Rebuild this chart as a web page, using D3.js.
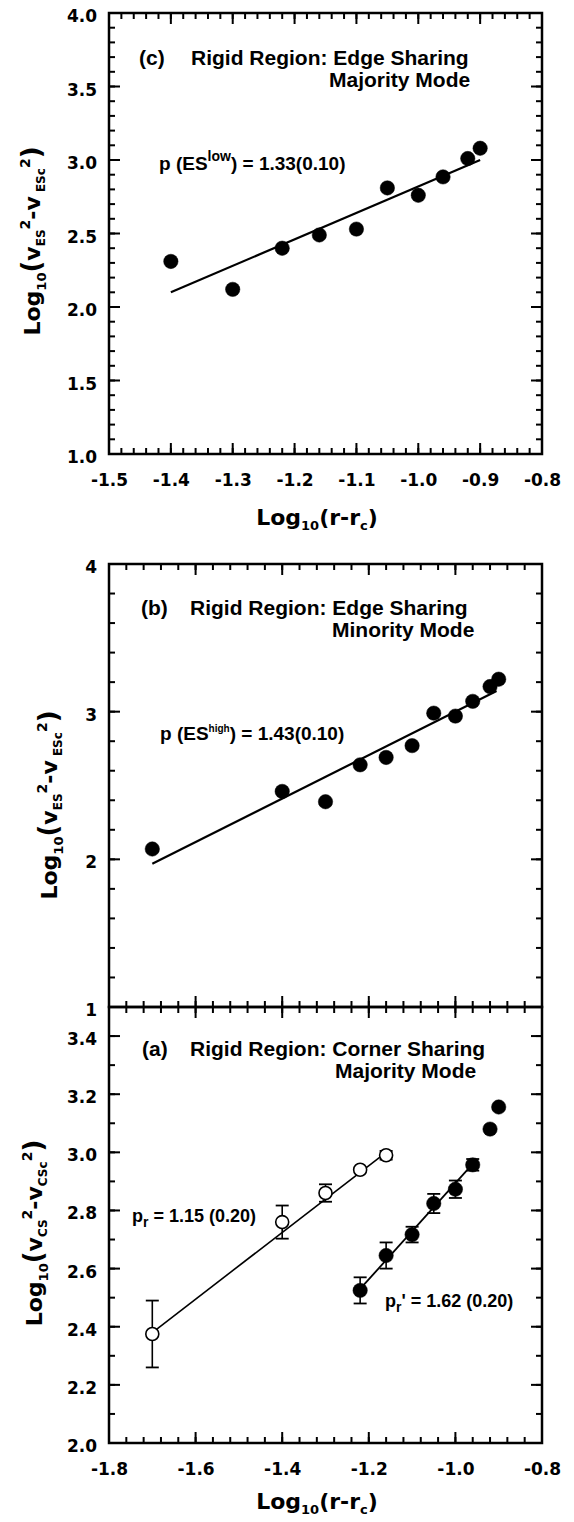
<!DOCTYPE html>
<html>
<head>
<meta charset="utf-8">
<script src="https://cdn.jsdelivr.net/npm/d3@7"></script>
<style>
  html, body { margin: 0; padding: 0; background: #fff; }
  svg { display: block; }
  .lbl text { font-family: "DejaVu Sans", sans-serif; font-weight: bold; font-size: 17px; fill: #000; }
  .note { font-family: "Liberation Sans", Arial, sans-serif; font-weight: bold; fill: #000; }
  .title { font-family: "DejaVu Sans", sans-serif; font-weight: bold; fill: #000; }
</style>
</head>
<body>
<svg width="574" height="1522"></svg>
<script>
// ---- panel (c): edge sharing, majority mode ----
const cX = [-1.40, -1.30, -1.22, -1.16, -1.10, -1.05, -1.00, -0.96, -0.92, -0.90];
const cY = [2.31, 2.12, 2.40, 2.49, 2.53, 2.81, 2.76, 2.885, 3.01, 3.08];
const cFitX = [-1.40, -0.90];
const cFitY = [2.10, 3.00];
const cXTicks = [-1.5, -1.4, -1.3, -1.2, -1.1, -1.0, -0.9, -0.8];
const cYTicks = [1.0, 1.5, 2.0, 2.5, 3.0, 3.5, 4.0];

// ---- panel (b): edge sharing, minority mode ----
const bX = [-1.70, -1.40, -1.30, -1.22, -1.16, -1.10, -1.05, -1.00, -0.96, -0.92, -0.90];
const bY = [2.07, 2.46, 2.39, 2.64, 2.69, 2.77, 2.99, 2.97, 3.07, 3.17, 3.22];
const bFitX = [-1.70, -0.905];
const bFitY = [1.97, 3.14];
const bXTicks = [-1.8, -1.6, -1.4, -1.2, -1.0, -0.8];
const bYTicks = [1, 2, 3, 4];

// ---- panel (a): corner sharing, majority mode ----
const aOpenX = [-1.70, -1.40, -1.30, -1.22, -1.16];
const aOpenY = [2.375, 2.76, 2.86, 2.94, 2.99];
const aOpenErr = [0.115, 0.057, 0.03, 0, 0.015];
const aFillX = [-1.22, -1.16, -1.10, -1.05, -1.00, -0.96, -0.92, -0.90];
const aFillY = [2.525, 2.645, 2.717, 2.824, 2.873, 2.957, 3.08, 3.156];
const aFillErr = [0.045, 0.045, 0.027, 0.033, 0.03, 0.02, 0, 0];
const aOpenFitX = [-1.70, -1.16];
const aOpenFitY = [2.38, 3.00];
const aFillFitX = [-1.22, -0.96];
const aFillFitY = [2.53, 2.96];
const aXTicks = [-1.8, -1.6, -1.4, -1.2, -1.0, -0.8];
const aYTicks = [2.0, 2.2, 2.4, 2.6, 2.8, 3.0, 3.2, 3.4];

const svg = d3.select('svg');

function minorTicks(domain, step) {
    const n = Math.round((domain[1] - domain[0]) / step);
    return d3.range(n + 1).map(i => +(domain[0] + i * step).toFixed(3));
}

function seg(g, x1, y1, x2, y2, w) {
    g.append('line')
        .attr('x1', x1).attr('y1', y1).attr('x2', x2).attr('y2', y2)
        .attr('stroke', '#000').attr('stroke-width', w);
}

function panel(p) {
    const x = d3.scaleLinear().domain(p.xDomain).range([p.left, p.right]);
    const y = d3.scaleLinear().domain(p.yDomain).range([p.bottom, p.top]);
    const g = svg.append('g');

    g.append('rect')
        .attr('x', p.left).attr('y', p.top)
        .attr('width', p.right - p.left).attr('height', p.bottom - p.top)
        .attr('fill', 'none').attr('stroke', '#000').attr('stroke-width', 2.5);

    // inward tick marks on all four sides
    const xt = [[minorTicks(p.xDomain, p.xMinor), 6], [p.xTicks, 11]];
    const yt = [[minorTicks(p.yDomain, p.yMinor), 6], [p.yTicks, 11]];
    xt.forEach(([vals, len]) => vals.forEach(v => {
        const px = x(v);
        seg(g, px, p.bottom, px, p.bottom - len, 2);
        seg(g, px, p.top, px, p.top + len, 2);
    }));
    yt.forEach(([vals, len]) => vals.forEach(v => {
        const py = y(v);
        seg(g, p.left, py, p.left + len, py, 2);
        seg(g, p.right, py, p.right - len, py, 2);
    }));

    // tick labels from d3 axes
    if (p.xLabels) {
        const ax = g.append('g').attr('class', 'lbl').attr('transform', `translate(0,${p.bottom})`)
            .call(d3.axisBottom(x).tickValues(p.xTicks).tickSize(0).tickPadding(20).tickFormat(d => d.toFixed(1)));
        ax.select('.domain').remove();
        ax.attr('font-size', null).attr('font-family', null);
    }
    const ay = g.append('g').attr('class', 'lbl').attr('transform', `translate(${p.left},0)`)
        .call(d3.axisLeft(y).tickValues(p.yTicks).tickSize(0).tickPadding(12).tickFormat(p.yFmt));
    ay.select('.domain').remove();
    ay.attr('font-size', null).attr('font-family', null);
    ay.selectAll('text').attr('dy', '0.5em');

    return { g, x, y };
}

function fitLine(P, fx, fy, w) {
    seg(P.g, P.x(fx[0]), P.y(fy[0]), P.x(fx[1]), P.y(fy[1]), w);
}

function errBars(P, xs, ys, es) {
    xs.forEach((xv, i) => {
        if (!es[i]) return;
        const cx = P.x(xv), t = P.y(ys[i] + es[i]), b = P.y(ys[i] - es[i]);
        seg(P.g, cx, t, cx, b, 1.6);
        [t, b].forEach(yy => seg(P.g, cx - 6.5, yy, cx + 6.5, yy, 1.8));
    });
}

function dots(P, xs, ys, open) {
    P.g.selectAll(null).data(xs.map((d, i) => [d, ys[i]])).enter()
        .append('circle')
        .attr('cx', d => P.x(d[0])).attr('cy', d => P.y(d[1]))
        .attr('r', open ? 6.5 : 7.2)
        .attr('fill', open ? '#fff' : '#000')
        .attr('stroke', '#000').attr('stroke-width', open ? 1.6 : 0.5);
}

function note(x, y, size, parts) {
    const t = svg.append('text').attr('class', 'note').attr('x', x).attr('y', y).attr('font-size', size);
    parts.forEach(s => {
        const ts = t.append('tspan').text(s[0]);
        if (s[1]) ts.attr('font-size', s[1]);
        if (s[2]) ts.attr('baseline-shift', s[2]);
    });
    return t;
}

function yTitle(x, y, parts) {
    const t = svg.append('text').attr('class', 'title')
        .attr('transform', `translate(${x},${y}) rotate(-90)`)
        .attr('text-anchor', 'middle').attr('font-size', 22);
    parts.forEach(s => {
        const ts = t.append('tspan').text(s[0]);
        if (s[1]) ts.attr('font-size', s[1]);
        if (s[2]) ts.attr('baseline-shift', s[2]);
    });
}

function xTitle(x, y) {
    const t = svg.append('text').attr('class', 'title')
        .attr('x', x).attr('y', y).attr('text-anchor', 'middle').attr('font-size', 22);
    t.append('tspan').text('Log');
    t.append('tspan').text('10').attr('font-size', 13).attr('baseline-shift', -5);
    t.append('tspan').text('(r-r');
    t.append('tspan').text('c').attr('font-size', 13).attr('baseline-shift', -5);
    t.append('tspan').text(')');
}

// ---- panel (c) ----
const C = panel({
    left: 109, right: 542, top: 13, bottom: 454,
    xDomain: [-1.5, -0.8], yDomain: [1, 4],
    xTicks: cXTicks, yTicks: cYTicks, xMinor: 0.02, yMinor: 0.1,
    xLabels: true, yFmt: d => d.toFixed(1)
});
fitLine(C, cFitX, cFitY, 2.2);
dots(C, cX, cY, false);
note(139, 65, 21, [['(c)']]);
note(191, 65, 21, [['Rigid Region: Edge Sharing']]);
note(329, 87, 21, [['Majority Mode']]);
note(159, 170, 19, [['p (ES'], ['low', 14, 9], [') = 1.33(0.10)']]);
xTitle(317, 525);
yTitle(40, 241, [['Log'], ['10', 13, -6], ['(', 26], ['v'], ['ES', 12, -5], ['2', 14, 10], ['-v'], [' ESc', 12, -5], ['2', 14, 10], [')', 26]]);

// ---- panel (b) ----
const B = panel({
    left: 109, right: 542, top: 564, bottom: 1007,
    xDomain: [-1.8, -0.8], yDomain: [1, 4],
    xTicks: bXTicks, yTicks: bYTicks, xMinor: 0.04, yMinor: 0.2,
    xLabels: false, yFmt: d => d.toFixed(0)
});
fitLine(B, bFitX, bFitY, 2.2);
dots(B, bX, bY, false);
note(141, 615, 21, [['(b)']]);
note(190, 615, 21, [['Rigid Region: Edge Sharing']]);
note(332, 637, 21, [['Minority Mode']]);
note(160, 740, 19, [['p (ES'], ['high', 10, 8], [') = 1.43(0.10)']]);
yTitle(57, 805, [['Log'], ['10', 13, -6], ['(', 26], ['v'], ['ES', 12, -5], ['2', 14, 10], ['-v'], [' ESc', 12, -5], ['2', 14, 10], [')', 26]]);

// ---- panel (a) ----
const A = panel({
    left: 109, right: 542, top: 1007, bottom: 1443,
    xDomain: [-1.8, -0.8], yDomain: [2.0, 3.5],
    xTicks: aXTicks, yTicks: aYTicks, xMinor: 0.04, yMinor: 0.1,
    xLabels: true, yFmt: d => d.toFixed(1)
});
fitLine(A, aOpenFitX, aOpenFitY, 1.6);
fitLine(A, aFillFitX, aFillFitY, 1.8);
errBars(A, aOpenX, aOpenY, aOpenErr);
errBars(A, aFillX, aFillY, aFillErr);
dots(A, aOpenX, aOpenY, true);
dots(A, aFillX, aFillY, false);
note(142, 1056, 21, [['(a)']]);
note(190, 1056, 21, [['Rigid Region: Corner Sharing']]);
note(335, 1078, 21, [['Majority Mode']]);
note(132, 1222, 18, [['p'], ['r', 14, -5], [' = 1.15 (0.20)']]);
note(385, 1307, 18, [['p'], ['r', 14, -5], ['\' = 1.62 (0.20)']]);
xTitle(317, 1509);
yTitle(42, 1233, [['Log'], ['10', 13, -6], ['(', 26], ['v'], ['CS', 12, -5], ['2', 14, 10], ['-v'], ['CSc', 12, -5], ['2', 14, 10], [')', 26]]);
</script>
</body>
</html>
